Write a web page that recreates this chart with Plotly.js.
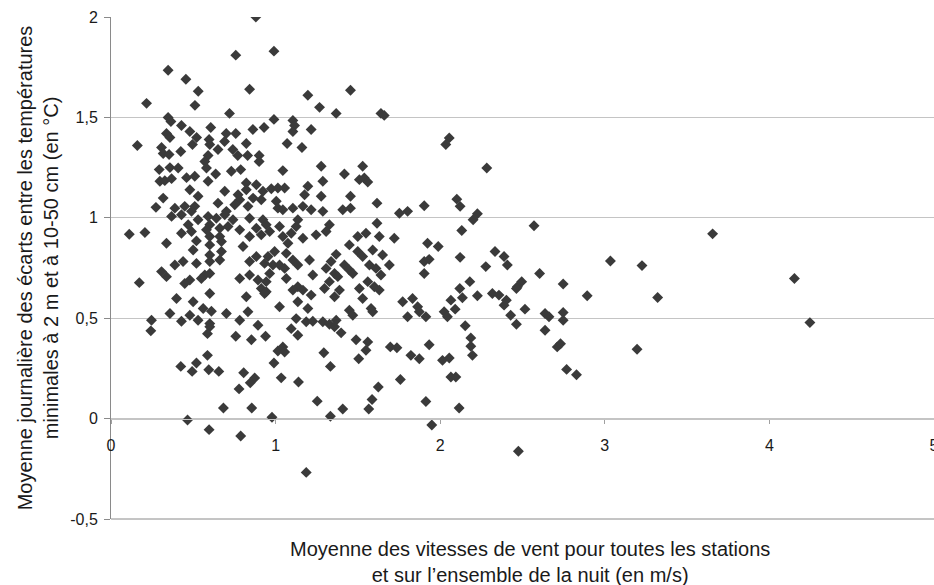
<!DOCTYPE html>
<html>
<head>
<meta charset="utf-8">
<script src="https://cdn.plot.ly/plotly-3.0.1.min.js"></script>
<style>html,body{margin:0;padding:0;background:#fff;}#chart{width:934px;height:585px;}</style>
</head>
<body>
<div id="chart"></div>
<script>
// Wind speed (m/s) and temperature gap (°C)
const windSpeed = [
0.88,0.758,0.347,0.455,0.53,0.842,0.216,0.51,0.72,0.347,0.364,0.428,0.606,0.93,0.862,0.479,0.70,0.758,0.337,0.52,0.358,0.596,0.69,0.822,0.16,0.495,0.307,0.60,0.65,0.74,0.424,0.317,0.353,0.77,0.83,0.90,0.59,0.57,0.90,
0.99,1.196,1.455,1.267,1.368,1.64,1.66,0.99,1.105,1.115,1.105,1.216,1.07,1.16,
0.293,0.358,0.408,0.58,0.636,0.731,0.788,0.297,0.327,0.368,0.459,0.509,0.59,0.822,0.883,0.479,0.691,0.772,0.822,0.923,0.317,0.529,0.782,0.913,0.863,0.273,0.388,0.448,0.509,0.65,0.752,0.832,0.701,0.368,0.428,0.489,0.59,0.64,0.691,0.842,0.923,0.741,0.469,0.529,0.60,0.661,0.711,0.782,0.883,0.943,0.111,0.206,0.428,0.489,0.58,0.60,0.661,0.842,0.913,0.337,0.519,0.60,0.671,0.802,0.499,0.671,0.60,0.883,0.388,0.438,0.519,0.60,0.661,0.842,0.933,0.307,0.337,0.479,0.57,0.60,0.782,0.842,0.893,0.943,0.172,0.448,0.549,0.913,0.943,0.60,0.822,0.933,0.398,0.499,0.56,0.61,0.701,0.832,0.358,0.479,0.529,0.246,0.428,0.60,0.782,
1.044,1.277,1.529,1.418,1.287,1.509,1.539,1.56,0.974,1.014,1.055,1.196,1.176,1.277,1.455,1.616,1.004,1.014,1.044,1.105,1.166,1.216,1.287,1.408,1.455,1.752,1.802,1.024,1.135,1.125,1.327,1.307,1.616,0.964,1.044,1.095,1.166,1.246,1.499,1.549,1.63,1.721,1.075,1.448,0.994,0.954,1.065,1.368,1.499,1.529,1.59,1.65,1.105,1.135,1.206,1.337,1.307,1.418,1.448,1.469,1.57,1.61,1.691,0.984,0.964,1.024,1.055,1.065,1.226,1.358,1.378,1.64,1.327,1.297,1.56,1.60,1.135,1.105,1.166,1.388,1.358,1.216,1.509,1.63,1.135,1.529,1.772,1.832,1.863,1.024,1.196,1.448,1.469,1.58,1.59,1.802,1.125,1.186,1.226,1.287,1.368,
0.242,0.60,0.586,0.893,0.758,0.853,0.939,0.586,0.424,0.519,0.493,0.594,0.655,0.806,0.873,0.846,0.778,0.683,0.855,0.465,0.596,0.788,
1.095,1.135,1.327,1.358,1.398,1.014,1.044,1.055,0.99,1.293,1.333,1.489,1.56,1.549,1.505,1.697,1.737,1.822,1.034,1.139,1.758,1.624,1.253,1.586,1.408,1.566,1.333,0.978,1.186,
2.055,2.034,2.283,1.903,2.101,2.121,2.226,2.2,2.131,2.57,1.923,1.988,1.903,1.933,1.903,2.121,2.333,2.388,2.408,2.277,2.604,2.18,2.119,2.495,2.469,2.747,
2.065,2.135,2.226,2.317,2.357,2.402,2.388,2.463,2.515,2.428,2.463,1.873,1.913,2.024,2.044,2.091,2.152,2.186,2.186,2.196,1.933,1.873,2.014,2.055,2.065,2.095,1.913,2.115,1.949,2.475,2.637,2.661,2.637,2.747,2.747,2.893,2.711,2.731,2.768,2.828,
3.655,3.034,3.226,3.321,4.152,4.246,3.196
];
const tempGap = [
2.0,1.81,1.735,1.69,1.63,1.64,1.57,1.56,1.52,1.50,1.48,1.46,1.45,1.45,1.44,1.43,1.42,1.42,1.42,1.40,1.40,1.39,1.38,1.37,1.36,1.365,1.35,1.365,1.34,1.34,1.33,1.32,1.315,1.31,1.31,1.31,1.31,1.28,1.28,
1.83,1.61,1.635,1.55,1.52,1.52,1.51,1.49,1.485,1.46,1.43,1.44,1.37,1.35,
1.24,1.25,1.248,1.248,1.218,1.232,1.24,1.182,1.185,1.195,1.20,1.207,1.182,1.173,1.165,1.14,1.132,1.115,1.14,1.132,1.098,1.107,1.09,1.09,1.098,1.052,1.048,1.057,1.057,1.073,1.065,1.057,1.032,1.007,1.015,1.032,1.007,0.998,1.015,0.998,0.99,0.99,0.965,0.99,0.965,0.948,0.957,0.94,0.948,0.965,0.918,0.927,0.923,0.932,0.94,0.907,0.907,0.907,0.915,0.873,0.885,0.865,0.882,0.857,0.84,0.832,0.815,0.807,0.765,0.782,0.773,0.782,0.79,0.782,0.773,0.732,0.707,0.69,0.715,0.723,0.698,0.715,0.69,0.682,0.677,0.673,0.698,0.648,0.632,0.623,0.607,0.623,0.598,0.582,0.548,0.535,0.523,0.532,0.523,0.515,0.49,0.49,0.485,0.473,0.49,
1.235,1.257,1.257,1.218,1.182,1.19,1.198,1.178,1.145,1.148,1.148,1.157,1.115,1.107,1.107,1.073,1.082,1.048,1.04,1.048,1.057,1.04,1.032,1.04,1.048,1.023,1.032,0.957,0.99,0.957,0.965,0.932,0.973,0.932,0.907,0.923,0.898,0.915,0.907,0.923,0.907,0.898,0.873,0.865,0.832,0.807,0.823,0.818,0.832,0.807,0.84,0.815,0.79,0.765,0.79,0.782,0.748,0.765,0.74,0.723,0.765,0.748,0.765,0.765,0.723,0.765,0.748,0.698,0.715,0.723,0.707,0.715,0.682,0.648,0.682,0.657,0.657,0.64,0.64,0.64,0.607,0.615,0.648,0.64,0.582,0.598,0.582,0.598,0.557,0.557,0.548,0.54,0.515,0.548,0.532,0.507,0.498,0.482,0.485,0.482,0.49,
0.437,0.457,0.423,0.465,0.41,0.393,0.41,0.315,0.26,0.277,0.235,0.243,0.235,0.228,0.202,0.178,0.148,0.053,0.053,-0.007,-0.055,-0.087,
0.448,0.415,0.47,0.457,0.427,0.337,0.357,0.332,0.277,0.328,0.26,0.393,0.382,0.34,0.298,0.357,0.353,0.315,0.203,0.182,0.195,0.157,0.087,0.095,0.048,0.048,0.012,0.007,-0.268,
1.398,1.365,1.248,1.06,1.093,1.057,1.02,0.99,0.937,0.96,0.873,0.857,0.782,0.793,0.723,0.803,0.832,0.807,0.765,0.757,0.723,0.682,0.648,0.682,0.657,0.67,
0.59,0.602,0.612,0.623,0.615,0.59,0.565,0.648,0.545,0.515,0.47,0.532,0.507,0.532,0.507,0.545,0.462,0.402,0.36,0.315,0.368,0.298,0.29,0.302,0.207,0.207,0.085,0.053,-0.032,-0.163,0.523,0.507,0.44,0.528,0.49,0.612,0.357,0.373,0.245,0.218,
0.92,0.785,0.762,0.603,0.698,0.478,0.345
];
const xTickVals = [0, 1, 2, 3, 4, 5];
const xTickText = ['0', '1', '2', '3', '4', '5'];
const yTickVals = [-0.5, 0, 0.5, 1, 1.5, 2];
const yTickText = ['-0,5', '0', '0,5', '1', '1,5', '2'];
const xTitle = 'Moyenne des vitesses de vent pour toutes les stations<br>et sur l’ensemble de la nuit (en m/s)';
const yTitle = 'Moyenne journalière des écarts entre les températures<br>minimales à 2 m et à 10-50 cm (en °C)';

const FONT = 'Liberation Sans, Arial, sans-serif';
const trace = {
  type: 'scatter', mode: 'markers',
  x: windSpeed, y: tempGap,
  marker: {symbol: 'diamond', size: 8.4, color: '#3a3a3a', line: {width: 0}},
  hoverinfo: 'x+y', showlegend: false
};
const layout = {
  width: 934, height: 585,
  margin: {l: 111, r: 0, t: 17, b: 66},
  paper_bgcolor: '#ffffff', plot_bgcolor: '#ffffff',
  separators: ', ',
  font: {family: FONT, size: 16, color: '#1a1a1a'},
  xaxis: {
    range: [0, 5], tickvals: xTickVals, ticktext: xTickText,
    anchor: 'free', position: 0.2,
    showgrid: false, zeroline: false,
    showline: true, linecolor: '#c4c4c4', linewidth: 1,
    ticks: 'outside', ticklen: 4, tickcolor: '#a0a0a0', tickwidth: 1,
    ticklabelstandoff: 8, ticklabeloverflow: 'allow',
    tickfont: {family: FONT, size: 16, color: '#1a1a1a'},
    fixedrange: true
  },
  yaxis: {
    range: [-0.5, 2], tickvals: yTickVals, ticktext: yTickText,
    showgrid: true, gridcolor: '#c4c4c4', gridwidth: 1,
    zeroline: false,
    showline: true, linecolor: '#8a8a8a', linewidth: 1,
    ticks: 'outside', ticklen: 6, tickcolor: '#8a8a8a', tickwidth: 1,
    ticklabelstandoff: 3,
    tickfont: {family: FONT, size: 16, color: '#1a1a1a'},
    title: {text: yTitle, font: {family: FONT, size: 20, color: '#1a1a1a'}, standoff: 6},
    fixedrange: true
  },
  shapes: [
    {type: 'line', xref: 'paper', yref: 'paper', x0: 0, x1: 1, y0: 0, y1: 0,
     line: {color: '#8a8a8a', width: 1}}
  ],
  annotations: [
    {text: xTitle, xref: 'paper', yref: 'paper', x: 0.5, y: 0, xanchor: 'center', yanchor: 'top',
     xshift: 7, yshift: -17, showarrow: false, align: 'center',
     font: {family: FONT, size: 20, color: '#1a1a1a'}}
  ]
};
Plotly.newPlot('chart', [trace], layout, {displayModeBar: false, staticPlot: true});
</script>
</body>
</html>
